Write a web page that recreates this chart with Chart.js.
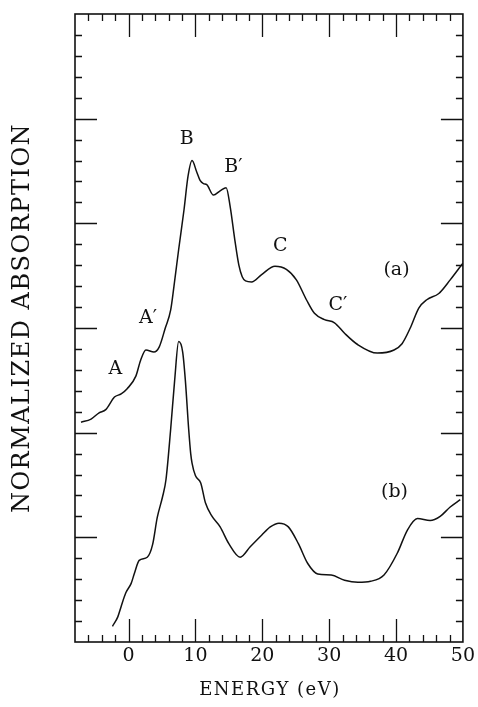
<!DOCTYPE html>
<html>
<head>
<meta charset="utf-8">
<script src="https://cdn.jsdelivr.net/npm/chart.js@4.4.1/dist/chart.umd.min.js"></script>
<style>
html,body{margin:0;padding:0;background:#fff;}
canvas{display:block;}
</style>
</head>
<body>
<canvas id="c" width="478" height="707"></canvas>
<script>
// ---- data ----
const energyA = [-7.1,-5.6,-4.4,-3.4,-2.1,-1.1,-0.2,1.1,1.8,2.6,3.8,4.6,5.5,6.3,6.8,7.5,8.3,8.9,9.5,10.2,10.7,11.2,11.7,12.7,13.7,14.6,15.2,15.9,16.5,17.0,17.5,18.4,19.9,21.9,23.6,25.1,26.6,27.8,29.3,30.8,32.3,34.3,37.2,39.7,40.9,42.2,43.4,44.6,46.4,48.1,50.0];
const absorbA = [2.10,2.13,2.19,2.22,2.34,2.37,2.42,2.54,2.69,2.79,2.77,2.82,3.00,3.17,3.40,3.75,4.13,4.45,4.60,4.49,4.41,4.38,4.37,4.27,4.31,4.34,4.16,3.84,3.60,3.49,3.45,3.44,3.51,3.59,3.56,3.46,3.27,3.14,3.08,3.05,2.95,2.84,2.76,2.79,2.85,3.01,3.19,3.27,3.33,3.46,3.62];
const energyB = [-2.4,-1.6,-1.1,-0.4,0.4,0.9,1.6,2.8,3.6,4.3,5.1,5.6,6.3,6.9,7.5,8.1,8.5,9.0,9.3,9.5,10.0,10.8,11.5,12.5,13.7,15.0,16.7,18.2,19.9,21.2,22.5,23.9,25.4,26.8,28.3,30.3,32.3,34.3,36.2,38.2,40.2,41.7,43.2,45.1,46.6,48.1,49.6];
const absorbB = [0.15,0.24,0.34,0.47,0.56,0.66,0.78,0.81,0.93,1.19,1.39,1.55,2.03,2.50,2.87,2.77,2.50,2.03,1.80,1.71,1.59,1.52,1.33,1.20,1.10,0.94,0.81,0.91,1.02,1.10,1.135,1.10,0.94,0.75,0.65,0.64,0.59,0.57,0.58,0.64,0.85,1.07,1.18,1.16,1.20,1.29,1.36];
const xTickValues = [0,10,20,30,40,50];
const xRange = [-8, 50];
const yRange = [0, 6];
const xMinorStep = 2, xMajorStep = 10;
const yMinorStep = 0.2, yMajorStep = 1;
const peakLabels = ['A','A\u2032','B','B\u2032','C','C\u2032','(a)','(b)'];
const peakLabelE = [-1.97, 2.93, 8.72, 15.7, 22.68, 31.3, 40.07, 39.77];
const peakLabelY = [2.608, 3.096, 4.806, 4.538, 3.783, 3.22, 3.554, 1.433];
const xTitle = 'ENERGY (eV)';
const yTitle = 'NORMALIZED ABSORPTION';

const INK = '#111';
const SERIF = '"DejaVu Serif", "Liberation Serif", serif';

const framePlugin = {
  id: 'frame',
  afterDraw(chart) {
    const ctx = chart.ctx, a = chart.chartArea;
    const xs = chart.scales.x, ys = chart.scales.y;
    ctx.save();
    ctx.strokeStyle = INK;
    ctx.lineWidth = 1.6;
    ctx.strokeRect(a.left, a.top, a.right - a.left, a.bottom - a.top);
    ctx.lineWidth = 1.3;
    ctx.beginPath();
    const near = (v, s) => Math.abs(v / s - Math.round(v / s)) < 1e-6;
    for (let v = xRange[0] + xMinorStep; v < xRange[1] - 1e-6; v += xMinorStep) {
      const px = Math.round(xs.getPixelForValue(v)) + 0.5;
      const len = near(v, xMajorStep) ? 23 : 7;
      ctx.moveTo(px, a.bottom); ctx.lineTo(px, a.bottom - len);
      ctx.moveTo(px, a.top); ctx.lineTo(px, a.top + len);
    }
    for (let v = yRange[0] + yMinorStep; v < yRange[1] - 1e-6; v += yMinorStep) {
      const py = Math.round(ys.getPixelForValue(v)) + 0.5;
      const len = near(v, yMajorStep) ? 22 : 7;
      ctx.moveTo(a.left, py); ctx.lineTo(a.left + len, py);
      ctx.moveTo(a.right, py); ctx.lineTo(a.right - len, py);
    }
    ctx.stroke();

    // peak labels
    ctx.fillStyle = INK;
    ctx.font = '19px ' + SERIF;
    ctx.textAlign = 'center';
    ctx.textBaseline = 'middle';
    peakLabels.forEach((t, i) => {
      ctx.fillText(t, xs.getPixelForValue(peakLabelE[i]), ys.getPixelForValue(peakLabelY[i]));
    });

    // axis titles
    ctx.font = '18px ' + SERIF;
    ctx.letterSpacing = '1.5px';
    ctx.fillText(xTitle, (a.left + a.right) / 2 + 1, 690);
    ctx.translate(23, 319);
    ctx.rotate(-Math.PI / 2);
    ctx.font = '24px ' + SERIF;
    ctx.letterSpacing = '1.5px';
    ctx.fillText(yTitle, 1, 0);
    ctx.restore();
  }
};

const toPts = (xs, ys) => xs.map((x, i) => ({ x: x, y: ys[i] }));

new Chart(document.getElementById('c'), {
  type: 'line',
  data: {
    datasets: [
      { label: '(a)', data: toPts(energyA, absorbA), borderColor: INK, borderWidth: 1.5, pointRadius: 0, cubicInterpolationMode: 'monotone', fill: false },
      { label: '(b)', data: toPts(energyB, absorbB), borderColor: INK, borderWidth: 1.5, pointRadius: 0, cubicInterpolationMode: 'monotone', fill: false }
    ]
  },
  options: {
    responsive: false,
    animation: false,
    devicePixelRatio: 1,
    layout: { padding: { top: 14, right: 12, left: 0, bottom: 0 } },
    plugins: { legend: { display: false }, tooltip: { enabled: false }, title: { display: false } },
    scales: {
      x: {
        type: 'linear', min: xRange[0], max: xRange[1],
        afterBuildTicks: s => { s.ticks = xTickValues.map(v => ({ value: v })); },
        afterFit: s => { s.height = 65; },
        grid: { display: false, drawTicks: false },
        border: { display: false },
        ticks: { color: INK, font: { family: SERIF, size: 19 }, padding: 3, maxRotation: 0, autoSkip: false }
      },
      y: {
        type: 'linear', min: yRange[0], max: yRange[1],
        afterFit: s => { s.width = 75; },
        grid: { display: false, drawTicks: false },
        border: { display: false },
        ticks: { display: false }
      }
    }
  },
  plugins: [framePlugin]
});
</script>
</body>
</html>
